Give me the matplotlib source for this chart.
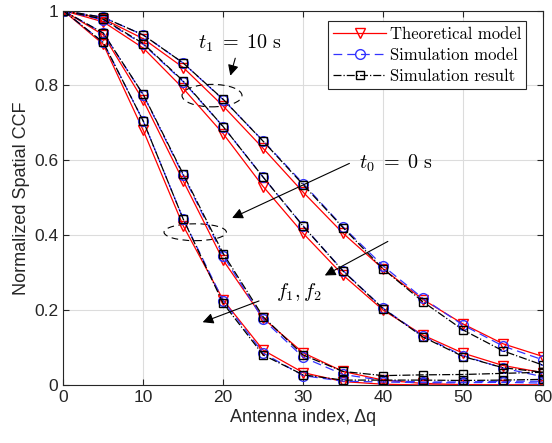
import numpy as np
import matplotlib
matplotlib.use('Agg')
import matplotlib.pyplot as plt
from matplotlib.patches import Ellipse

plt.rcParams['mathtext.fontset'] = 'cm'
plt.rcParams['font.family'] = ['Liberation Sans', 'DejaVu Sans']

# antenna index
dq = [0, 5, 10, 15, 20, 25, 30, 35, 40, 45, 50, 55, 60]

# theoretical model
theo_t1_f2 = [1, 0.978, 0.925, 0.848, 0.745, 0.632, 0.515, 0.405, 0.310, 0.228, 0.163, 0.110, 0.076]
theo_t1_f1 = [1, 0.970, 0.900, 0.792, 0.671, 0.530, 0.405, 0.293, 0.200, 0.133, 0.085, 0.052, 0.033]
theo_t0_f2 = [1, 0.935, 0.760, 0.545, 0.333, 0.178, 0.086, 0.036, 0.013, 0.004, 0.001, 0.0, 0.0]
theo_t0_f1 = [1, 0.910, 0.680, 0.425, 0.227, 0.093, 0.033, 0.009, 0.002, 0.0, 0.0, 0.0, 0.0]

# simulation model
model_t1_f2 = [1, 0.982, 0.935, 0.860, 0.762, 0.652, 0.538, 0.422, 0.318, 0.231, 0.160, 0.104, 0.067]
model_t1_f1 = [1, 0.975, 0.910, 0.810, 0.690, 0.555, 0.425, 0.305, 0.205, 0.130, 0.078, 0.045, 0.022]
model_t0_f2 = [1, 0.940, 0.775, 0.560, 0.345, 0.175, 0.074, 0.028, 0.012, 0.008, 0.008, 0.010, 0.010]
model_t0_f1 = [1, 0.915, 0.705, 0.443, 0.225, 0.085, 0.025, 0.010, 0.008, 0.006, 0.006, 0.007, 0.005]

# simulation result
sim_t1_f2 = [1, 0.982, 0.935, 0.860, 0.763, 0.651, 0.535, 0.420, 0.310, 0.222, 0.147, 0.091, 0.053]
sim_t1_f1 = [1, 0.977, 0.912, 0.812, 0.690, 0.555, 0.424, 0.304, 0.204, 0.128, 0.076, 0.046, 0.034]
sim_t0_f2 = [1, 0.940, 0.776, 0.563, 0.351, 0.182, 0.080, 0.036, 0.025, 0.027, 0.028, 0.031, 0.034]
sim_t0_f1 = [1, 0.915, 0.705, 0.443, 0.218, 0.080, 0.027, 0.013, 0.013, 0.013, 0.012, 0.013, 0.015]

labels = ['Theoretical model', 'Simulation model', 'Simulation result']

fig = plt.figure(figsize=(5.52, 4.43), dpi=100)
ax = fig.add_axes([0.1147, 0.131, 0.869, 0.845])

theo_style = dict(color='red', linestyle='-', marker='v', markersize=7,
                  markerfacecolor='none', linewidth=0.9)
model_style = dict(color='#3333ff', linestyle='--', dashes=(7, 4), marker='o',
                   markersize=7, markerfacecolor='none', linewidth=0.9)
sim_style = dict(color='black', linestyle='-.', marker='s', markersize=6,
                 markerfacecolor='none', linewidth=0.9)

h = []
for th, mo, si in [(theo_t1_f2, model_t1_f2, sim_t1_f2),
                   (theo_t1_f1, model_t1_f1, sim_t1_f1),
                   (theo_t0_f2, model_t0_f2, sim_t0_f2),
                   (theo_t0_f1, model_t0_f1, sim_t0_f1)]:
    l1, = ax.plot(dq, th, **theo_style)
    l2, = ax.plot(dq, mo, **model_style)
    l3, = ax.plot(dq, si, **sim_style)
    h = [l1, l2, l3]

ax.set_xlim(0, 60)
ax.set_ylim(0, 1)
ax.set_xticks(np.arange(0, 61, 10))
ax.set_yticks([0, 0.2, 0.4, 0.6, 0.8, 1])
ax.set_yticklabels(['0', '0.2', '0.4', '0.6', '0.8', '1'])
ax.grid(True, color='#dcdcdc', linewidth=0.8)
ax.set_axisbelow(True)
ax.tick_params(direction='in', top=True, right=True, labelsize=12.5,
               colors='#262626', length=4)
for s in ax.spines.values():
    s.set_color('#262626')
    s.set_linewidth(0.8)
ax.set_xlabel('Antenna index, \u0394q', fontsize=13, color='#262626', labelpad=3)
ax.set_ylabel('Normalized Spatial CCF', fontsize=13, color='#262626', labelpad=3)

leg = ax.legend(h, labels, loc='upper right', bbox_to_anchor=(0.975, 0.985),
                prop={'family': 'cmr10', 'size': 12}, fancybox=False,
                edgecolor='#262626', framealpha=1, handlelength=3.2,
                handletextpad=0.2, borderpad=0.3, labelspacing=0.35,
                borderaxespad=0.3)
leg.get_frame().set_linewidth(0.8)

# annotations
ax.add_patch(Ellipse((18.6, 0.773), 7.5, 0.06, fill=False, color='black',
                     linestyle=(0, (6, 4)), linewidth=0.8))
ax.add_patch(Ellipse((16.5, 0.408), 7.8, 0.045, fill=False, color='black',
                     linestyle=(0, (6, 4)), linewidth=0.8))
arrow = dict(arrowstyle='-|>', color='black', lw=0.8, mutation_scale=16)
ax.annotate('', xy=(20.8, 0.819), xytext=(21.6, 0.88), arrowprops=arrow)
ax.annotate('', xy=(20.8, 0.443), xytext=(36.1, 0.595), arrowprops=arrow)
ax.annotate('', xy=(32.4, 0.289), xytext=(40.9, 0.387), arrowprops=arrow)
ax.annotate('', xy=(17.1, 0.165), xytext=(24.8, 0.227), arrowprops=arrow)
ax.text(16.9, 0.912, r'$t_1\;=\;10\ \mathrm{s}$', fontsize=14.5, va='center')
ax.text(37.0, 0.592, r'$t_0\;=\;0\ \mathrm{s}$', fontsize=14.5, va='center')
ax.text(26.6, 0.248, r'$f_1, f_2$', fontsize=14.5, va='center')

fig.savefig('out.png', dpi=100)
